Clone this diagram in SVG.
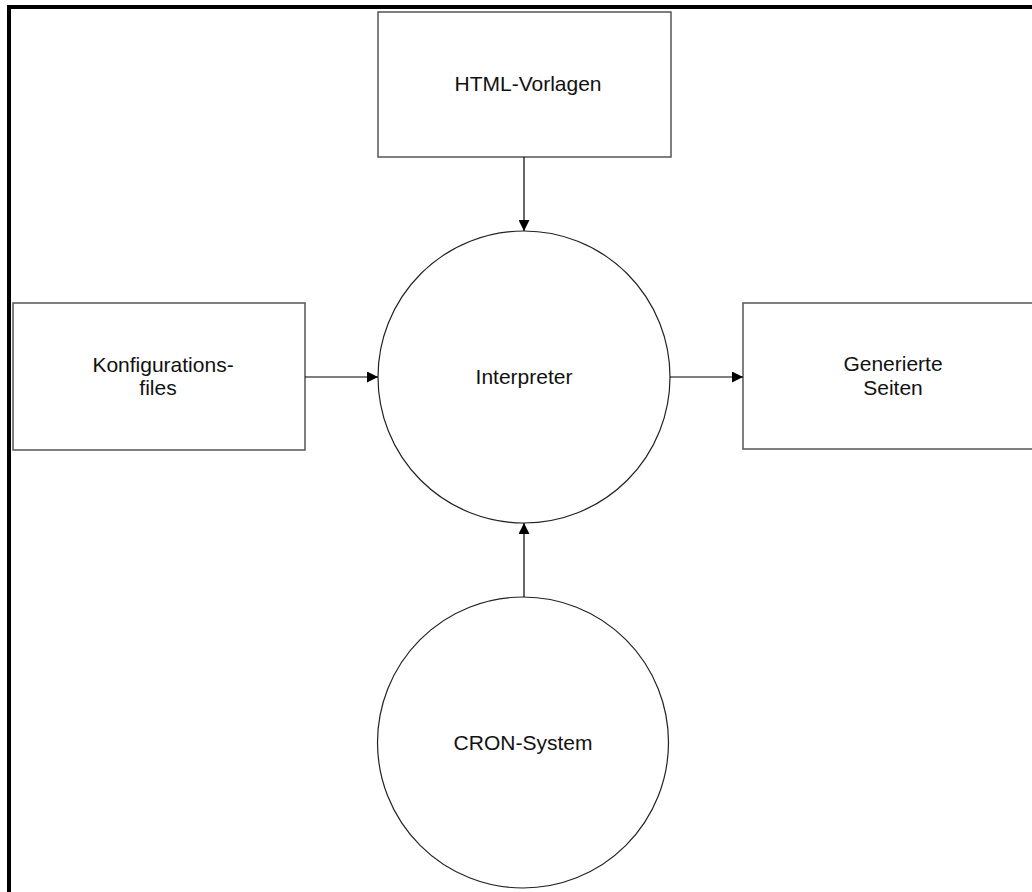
<svg xmlns="http://www.w3.org/2000/svg" width="1032" height="892" viewBox="0 0 1032 892">
  <defs>
    <marker id="arrow" viewBox="0 0 10 10" refX="10" refY="5" markerWidth="11" markerHeight="11" markerUnits="userSpaceOnUse" orient="auto">
      <path d="M0,0 L10,5 L0,10 Z" fill="#000"/>
    </marker>
  </defs>
  <style>
    .box { fill: #fff; stroke: #555; stroke-width: 1.5; }
    .proc { fill: #fff; stroke: #222; stroke-width: 1.2; }
    .lbl { font-family: "Liberation Sans", Arial, sans-serif; font-size: 21px; fill: #111; text-anchor: middle; }
    .flow { stroke: #000; stroke-width: 1.2; fill: none; marker-end: url(#arrow); }
  </style>
  <rect width="1032" height="892" fill="#fff"/>
  <!-- page frame -->
  <path d="M9,892 V7 H1032" fill="none" stroke="#000" stroke-width="4"/>

  <g id="html-vorlagen">
    <rect class="box" x="378" y="12" width="293" height="145"/>
    <text class="lbl" x="528" y="91">HTML-Vorlagen</text>
  </g>
  <g id="konfigurationsfiles">
    <rect class="box" x="13" y="303" width="292" height="147"/>
    <text class="lbl" x="163" y="372">Konfigurations-</text>
    <text class="lbl" x="158" y="395">files</text>
  </g>
  <g id="generierte-seiten">
    <rect class="box" x="743" y="303" width="295" height="146"/>
    <text class="lbl" x="893" y="371">Generierte</text>
    <text class="lbl" x="893" y="395">Seiten</text>
  </g>
  <g id="interpreter">
    <circle class="proc" cx="524" cy="377" r="146"/>
    <text class="lbl" x="524" y="384">Interpreter</text>
  </g>
  <g id="cron-system">
    <circle class="proc" cx="523" cy="742.5" r="145.5"/>
    <text class="lbl" x="523" y="750">CRON-System</text>
  </g>

  <g id="connectors">
    <line class="flow" x1="524" y1="157" x2="524" y2="231"/>
    <line class="flow" x1="305" y1="377" x2="378" y2="377"/>
    <line class="flow" x1="670" y1="377" x2="743" y2="377"/>
    <line class="flow" x1="524" y1="597" x2="524" y2="523"/>
  </g>
</svg>
